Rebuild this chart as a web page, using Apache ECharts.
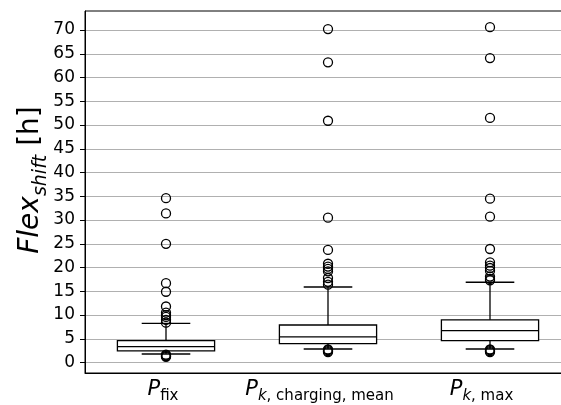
<!DOCTYPE html>
<html lang="en">
<head>
    <meta charset="UTF-8"/>
    <title>flex shift boxplot</title>
    <script src="https://cdn.jsdelivr.net/npm/echarts@6/dist/echarts.min.js"></script>
    <style>
        html, body { margin: 0; padding: 0; background: #fff; }
    </style>
</head>
<body>
<div id="main" style="width: 561px;height:405px;"></div>
<script type="text/javascript">
    // categories and their (rich text) tick labels
    var categories = ['P_fix', 'P_k,charging,mean', 'P_k,max'];
    var tickLabels = [
        '{p|P}{sub|fix}',
        '{p|P}{subi|k}{sub|, charging, mean}',
        '{p|P}{subi|k}{sub|, max}'
    ];
    var yTicks = [0, 5, 10, 15, 20, 25, 30, 35, 40, 45, 50, 55, 60, 65, 70];

    // box statistics
    var lowerWhisker = [1.8, 2.85, 2.85];
    var q1 = [2.45, 4.0, 4.6];
    var median = [3.35, 5.4, 6.7];
    var q3 = [4.6, 7.9, 9.0];
    var upperWhisker = [8.25, 15.9, 16.9];

    // fliers
    var fliersFix = [1.2, 1.35, 1.5, 1.65, 8.4, 9.0, 9.6, 10.0, 10.5, 11.8, 14.9, 16.7, 25.0, 31.4, 34.6];
    var fliersMean = [2.2, 2.4, 2.6, 2.75, 16.4, 17.0, 17.8, 19.2, 19.7, 20.2, 20.8, 23.7, 30.5, 50.9, 63.2, 70.2];
    var fliersMax = [2.2, 2.4, 2.6, 2.75, 17.3, 17.6, 18.1, 19.3, 19.9, 20.4, 21.1, 23.9, 30.7, 34.5, 51.5, 64.1, 70.6];

    var boxData = categories.map(function (c, i) {
        return [i, lowerWhisker[i], q1[i], median[i], q3[i], upperWhisker[i]];
    });
    var flierData = [];
    [fliersFix, fliersMean, fliersMax].forEach(function (arr, i) {
        arr.forEach(function (v) { flierData.push([i, v]); });
    });

    var lineStyle = {stroke: '#000', lineWidth: 1.3, fill: null};

    function renderBox(params, api) {
        var i = api.value(0);
        var w = api.size([1, 0])[0] * 0.6;
        var lo = api.coord([i, api.value(1)]);
        var b1 = api.coord([i, api.value(2)]);
        var md = api.coord([i, api.value(3)]);
        var b3 = api.coord([i, api.value(4)]);
        var hi = api.coord([i, api.value(5)]);
        var x = lo[0];
        function ln(x1, y1, x2, y2) {
            return {type: 'line', shape: {x1: x1, y1: y1, x2: x2, y2: y2}, style: lineStyle};
        }
        return {
            type: 'group',
            children: [
                {type: 'rect', shape: {x: x - w / 2, y: b3[1], width: w, height: b1[1] - b3[1]},
                    style: {stroke: '#000', lineWidth: 1.3, fill: '#fff'}},
                ln(x - w / 2, md[1], x + w / 2, md[1]),
                ln(x, b3[1], x, hi[1]),
                ln(x, b1[1], x, lo[1]),
                ln(x - w / 4, hi[1], x + w / 4, hi[1]),
                ln(x - w / 4, lo[1], x + w / 4, lo[1])
            ]
        };
    }

    var font = 'DejaVu Sans';
    // trailing spacer so the labels sit a little left of their tick, like the original
    var labelShift = [6, 17, 17];
    var xRich = {
        p: {fontFamily: font, fontStyle: 'italic', fontSize: 21, lineHeight: 24, verticalAlign: 'top', color: '#000'},
        sub: {fontFamily: font, fontSize: 15, lineHeight: 15, padding: [10, 0, 0, 0], verticalAlign: 'top', color: '#000'},
        subi: {fontFamily: font, fontStyle: 'italic', fontSize: 15, lineHeight: 15, padding: [10, 0, 0, 0], verticalAlign: 'top', color: '#000'}
    };
    labelShift.forEach(function (s, i) {
        xRich['g' + i] = {width: s, fontSize: 15, lineHeight: 15, verticalAlign: 'top'};
    });

    var myChart = echarts.init(document.getElementById('main'));
    var option = {
        animation: false,
        textStyle: {fontFamily: font},
        grid: {
            left: 85, top: 11, width: 486, height: 362,
            outerBoundsMode: 'none',
            containLabel: false,
            show: true, borderColor: '#000', borderWidth: 1, backgroundColor: 'transparent'
        },
        xAxis: {
            type: 'category',
            data: categories,
            boundaryGap: true,
            axisLine: {onZero: false, lineStyle: {color: '#000', width: 1}},
            axisTick: {alignWithLabel: true, length: 4, lineStyle: {color: '#000'}},
            axisLabel: {
                interval: 0,
                hideOverlap: false,
                margin: 6,
                formatter: function (v, i) { return tickLabels[i] + '{g' + i + '| }'; },
                rich: xRich
            },
            splitLine: {show: false}
        },
        yAxis: {
            type: 'value',
            min: -2.2,
            max: 74,
            name: '{i|Flex}{s|shift}{n| [h]}',
            nameLocation: 'middle',
            nameRotate: 90,
            nameGap: 36,
            nameMoveOverlap: false,
            nameTextStyle: {
                padding: [0, 0, 0, 24],
                rich: {
                    i: {fontFamily: font, fontStyle: 'italic', fontSize: 28, lineHeight: 32, verticalAlign: 'top', color: '#000'},
                    s: {fontFamily: font, fontStyle: 'italic', fontSize: 19, lineHeight: 19, padding: [15, 0, 0, 0], verticalAlign: 'top', color: '#000'},
                    n: {fontFamily: font, fontSize: 28, lineHeight: 32, verticalAlign: 'top', color: '#000'}
                }
            },
            axisLine: {show: true, lineStyle: {color: '#000', width: 1}},
            axisTick: {show: true, length: 5, customValues: yTicks, lineStyle: {color: '#000'}},
            axisLabel: {margin: 10, fontSize: 17, color: '#000', customValues: yTicks},
            splitLine: {show: true, lineStyle: {color: '#b0b0b0', width: 1}}
        },
        series: [
            {
                type: 'custom',
                renderItem: renderBox,
                data: boxData,
                encode: {x: 0, y: [1, 2, 3, 4, 5]},
                z: 3
            },
            {
                type: 'scatter',
                data: flierData,
                symbol: 'circle',
                symbolSize: 9,
                itemStyle: {color: 'rgba(0,0,0,0)', borderColor: '#000', borderWidth: 1.3, opacity: 1},
                z: 4
            }
        ]
    };

    myChart.setOption(option);
</script>
</body>
</html>
